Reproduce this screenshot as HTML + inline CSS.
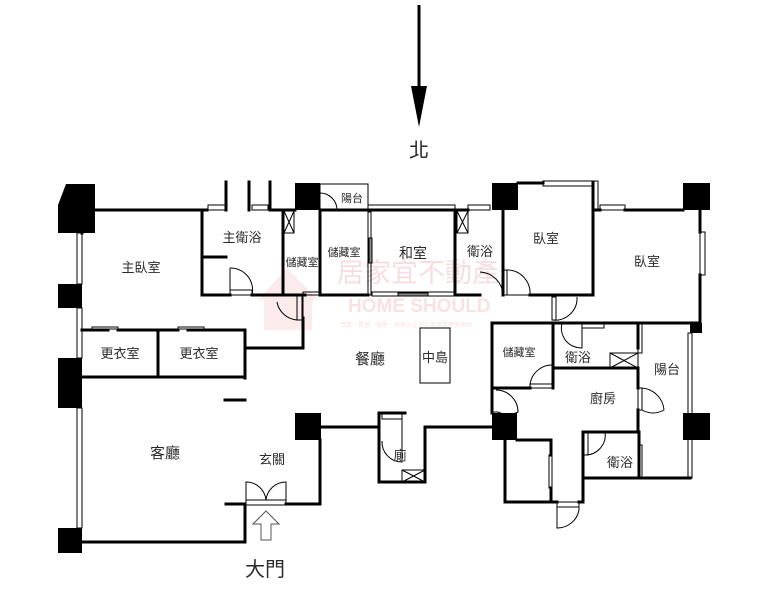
<!DOCTYPE html>
<html><head><meta charset="utf-8"><style>
html,body{margin:0;padding:0;background:#fff;width:781px;height:591px;overflow:hidden}
svg{display:block}
text{font-family:"Liberation Sans","Noto Sans CJK TC",sans-serif;fill:#2a2a2a}
</style></head><body>
<svg width="781" height="591" viewBox="0 0 781 591" xmlns="http://www.w3.org/2000/svg">
<!-- watermark -->
<g opacity="0.08" fill="#c00">
<path d="M258 300 L287 268 L318 300 L312 300 L312 330 L264 330 L264 300Z"/>
</g>
<text x="337" y="282" font-size="27" style="fill:#f6dede" font-family="'Noto Serif CJK SC',serif">居家宜不動產</text>
<text x="348" y="312" font-size="19" font-weight="bold" style="fill:#f8e2e2">HOME SHOULD</text>
<text x="340" y="327" font-size="6" style="fill:#f8e4e4">買屋、賣屋、租屋、換屋的全方位專業房屋服務網</text>

<!-- north arrow -->
<line x1="419" y1="5" x2="419" y2="90" stroke="#000" stroke-width="3"/>
<polygon points="411,86 427,86 419,127" fill="#000"/>
<text x="419" y="157" font-size="20" text-anchor="middle">北</text>

<g fill="#000">
<polygon points="66,184 95,184 95,233 58,233 58,205"/>
<rect x="58" y="284" width="24" height="24"/>
<rect x="58" y="358" width="24" height="50"/>
<rect x="58" y="528" width="24" height="25"/>
<rect x="295" y="183" width="25" height="27"/>
<rect x="492" y="183" width="26" height="27"/>
<rect x="683" y="183" width="27" height="27"/>
<rect x="690" y="323" width="12" height="10"/>
<rect x="295" y="413" width="26" height="27"/>
<rect x="492" y="413" width="25" height="27"/>
<rect x="683" y="413" width="27" height="27"/>
</g>

<g stroke="#000" stroke-width="3" fill="none" stroke-linecap="square">
<line x1="82" y1="210" x2="207" y2="210"/>
<line x1="82" y1="210" x2="82" y2="233"/>
<line x1="226" y1="182" x2="226" y2="210"/>
<line x1="249" y1="182" x2="249" y2="210"/>
<line x1="270" y1="182" x2="270" y2="210"/>
<line x1="270" y1="210" x2="295" y2="210"/>
<path d="M202 210 V295 H230"/>
<path d="M252 295 H283"/>
<line x1="202" y1="257" x2="226" y2="257"/>
<line x1="283" y1="210" x2="283" y2="295"/>
<line x1="283" y1="295" x2="305" y2="295"/>
<line x1="320" y1="210" x2="320" y2="295"/>
<line x1="320" y1="295" x2="368" y2="295"/>
<line x1="320" y1="210" x2="368" y2="210"/>
<path d="M303 318 V348 H246"/>
<line x1="82" y1="330" x2="108" y2="330"/>
<line x1="118" y1="330" x2="178" y2="330"/>
<line x1="188" y1="330" x2="245" y2="330"/>
<line x1="245" y1="330" x2="245" y2="378"/>
<line x1="158" y1="330" x2="158" y2="377"/>
<line x1="82" y1="377" x2="245" y2="377"/>
<line x1="225" y1="400" x2="245" y2="400"/>
<path d="M82 542 H245 V504 H226"/>
<path d="M286 504 H320 V440"/>
<line x1="321" y1="427" x2="379" y2="427"/>
<path d="M379 413 V482 H425 V427 H492"/>
<line x1="379" y1="413" x2="405" y2="413"/>
<line x1="368" y1="210" x2="455" y2="210"/>
<line x1="455" y1="210" x2="455" y2="295"/>
<line x1="455" y1="295" x2="480" y2="295"/>
<line x1="455" y1="210" x2="468" y2="210"/>
<line x1="503" y1="210" x2="503" y2="295"/>
<line x1="518" y1="183" x2="543" y2="183"/>
<line x1="593" y1="183" x2="593" y2="295"/>
<line x1="530" y1="295" x2="593" y2="295"/>
<line x1="593" y1="210" x2="600" y2="210"/>
<line x1="625" y1="210" x2="683" y2="210"/>
<line x1="700" y1="210" x2="700" y2="232"/>
<line x1="700" y1="275" x2="700" y2="323"/>
<line x1="578" y1="323" x2="700" y2="323"/>
<path d="M552 323 H492 V388 H530"/>
<line x1="553" y1="323" x2="553" y2="388"/>
<line x1="553" y1="368" x2="638" y2="368"/>
<line x1="553" y1="323" x2="578" y2="323"/>
<line x1="638" y1="323" x2="638" y2="348"/>
<line x1="638" y1="368" x2="638" y2="388"/>
<line x1="638" y1="410" x2="638" y2="432"/>
<line x1="583" y1="432" x2="639" y2="432"/>
<line x1="639" y1="432" x2="639" y2="478"/>
<line x1="583" y1="478" x2="690" y2="478"/>
<line x1="583" y1="432" x2="583" y2="502"/>
<path d="M517 440 H551 V455"/>
<line x1="505" y1="440" x2="505" y2="502"/>
<line x1="505" y1="502" x2="557" y2="502"/>
<line x1="579" y1="502" x2="583" y2="502"/>
<line x1="551" y1="488" x2="551" y2="502"/>
<line x1="492" y1="388" x2="492" y2="413"/>
</g>

<g stroke="#000" stroke-width="1" fill="none">
<rect x="77" y="233" width="5" height="51"/>
<rect x="77" y="308" width="5" height="50"/>
<rect x="77" y="408" width="5" height="120"/>
<rect x="208" y="205" width="18" height="5"/>
<rect x="252" y="205" width="16" height="5"/>
<rect x="368" y="205" width="87" height="5"/>
<rect x="468" y="205" width="22" height="5"/>
<rect x="543" y="181" width="50" height="5"/>
<rect x="593" y="181" width="5" height="29"/>
<rect x="600" y="205" width="25" height="5"/>
<rect x="700" y="232" width="5" height="43"/>
<rect x="688" y="333" width="4" height="145"/>
<rect x="638" y="323" width="4" height="30"/>
<rect x="638" y="445" width="4" height="33"/>
<rect x="320" y="184" width="48" height="26"/>
<path d="M320 193 A17 17 0 0 1 337 210" />
<rect x="368" y="212" width="3" height="83"/>
<rect x="369" y="238" width="3" height="25" fill="#888"/>
<rect x="372" y="292" width="83" height="4"/>
<rect x="398" y="293" width="30" height="3" fill="#888"/>
<rect x="284" y="211" width="10" height="22"/><path d="M284 211 L294 233 M294 211 L284 233"/>
<rect x="457" y="211" width="11" height="22"/><path d="M457 211 L468 233 M468 211 L457 233"/>
<rect x="610" y="353" width="28" height="15"/><path d="M610 353 L638 368 M638 353 L610 368"/>
<rect x="402" y="470" width="23" height="12"/><path d="M402 470 L425 482 M425 470 L402 482"/>
<path d="M230 268 V295 H252 A22 22 0 0 0 230 268"/>
<rect x="230" y="290" width="22" height="5"/>
<path d="M302 295 V320 H297 A22 22 0 0 1 277 302"/>
<rect x="297" y="296" width="6" height="24"/>
<rect x="303" y="292" width="18" height="3"/>
<path d="M503 270 V295 A24 24 0 0 0 480 272"/>
<rect x="503" y="270" width="4" height="25"/>
<path d="M507 270 A23 23 0 0 1 530 295 H507"/>
<path d="M552 297 V320 A22 22 0 0 0 577 297"/>
<rect x="552" y="297" width="4" height="23"/>
<path d="M582 323 V348 A20 20 0 0 1 562 323"/>
<rect x="582" y="323" width="22" height="5"/>
<path d="M530 388 A22 22 0 0 1 553 365 V388 Z"/>
<rect x="530" y="384" width="22" height="4"/>
<path d="M492 390 V412 H498 A22 22 0 0 0 518 412 A22 22 0 0 0 496 390"/>
<path d="M638 388 V410 H642 A22 22 0 0 0 664 410 A24 24 0 0 0 642 388"/>
<rect x="638" y="388" width="4" height="22"/>
<path d="M584 432 V455 A20 20 0 0 0 605 432"/>
<rect x="584" y="432" width="4" height="23"/>
<path d="M557 502 H579 V510 A22 22 0 0 1 557 528 Z"/>
<rect x="557" y="502" width="22" height="5"/>
<rect x="549" y="455" width="3" height="33"/>
<path d="M382 414 H402 V462 A20 20 0 0 1 382 441"/>
<rect x="382" y="414" width="20" height="5"/>
<rect x="246" y="500" width="40" height="5"/>
<path d="M246 500 V482 A20 20 0 0 1 266 500 A20 20 0 0 1 286 482 V500"/>
<rect x="92" y="327" width="26" height="2"/>
<rect x="178" y="327" width="26" height="2"/>
<rect x="420" y="328" width="30" height="55"/>
<polygon points="266,511 279,524 271,524 271,540 261,540 261,524 253,524" stroke="#555"/>
</g>

<g font-size="13">
<text x="141" y="272" text-anchor="middle">主臥室</text>
<text x="242" y="242" text-anchor="middle">主衛浴</text>
<text x="302" y="266" text-anchor="middle" font-size="11">儲藏室</text>
<text x="344" y="256" text-anchor="middle" font-size="11">儲藏室</text>
<text x="352" y="202" text-anchor="middle" font-size="11">陽台</text>
<text x="413" y="258" text-anchor="middle" font-size="14">和室</text>
<text x="480" y="256" text-anchor="middle">衛浴</text>
<text x="546" y="243" text-anchor="middle">臥室</text>
<text x="647" y="266" text-anchor="middle">臥室</text>
<text x="120" y="358" text-anchor="middle">更衣室</text>
<text x="199" y="358" text-anchor="middle">更衣室</text>
<text x="370" y="364" text-anchor="middle" font-size="15">餐廳</text>
<text x="435" y="362" text-anchor="middle">中島</text>
<text x="519" y="356" text-anchor="middle" font-size="11">儲藏室</text>
<text x="578" y="362" text-anchor="middle">衛浴</text>
<text x="667" y="374" text-anchor="middle">陽台</text>
<text x="603" y="403" text-anchor="middle">廚房</text>
<text x="620" y="467" text-anchor="middle">衛浴</text>
<text x="165" y="458" text-anchor="middle" font-size="15">客廳</text>
<text x="272" y="464" text-anchor="middle">玄關</text>
<text x="400" y="460" text-anchor="middle">廁</text>
<text x="265" y="576" text-anchor="middle" font-size="20">大門</text>
</g>
</svg>
</body></html>
